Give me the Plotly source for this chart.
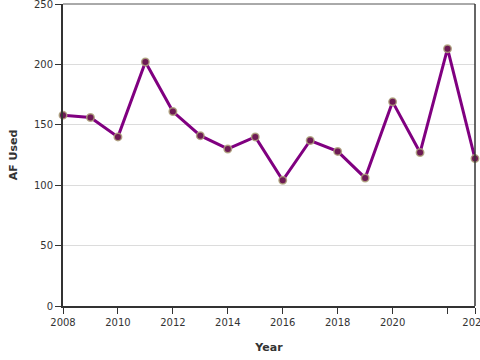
import plotly.graph_objects as go

years = [2008, 2009, 2010, 2011, 2012, 2013, 2014, 2015, 2016, 2017, 2018, 2019, 2020, 2021, 2022, 2023]
af_used = [158, 156, 140, 202, 161, 141, 130, 140, 104, 137, 128, 106, 169, 127, 213, 122]

x_tickvals = [2008, 2010, 2012, 2014, 2016, 2018, 2020, 2022, 2023]
x_ticktext = ["2008", "2010", "2012", "2014", "2016", "2018", "2020", "", "2023"]
y_tickvals = [0, 50, 100, 150, 200, 250]

fig = go.Figure()
fig.add_trace(go.Scatter(
    x=years, y=af_used, mode="lines+markers",
    line=dict(color="#800080", width=3),
    marker=dict(size=7.5, color="#6e1a55", line=dict(color="rgba(175,165,125,0.85)", width=1.5)),
    cliponaxis=False,
))

fig.update_layout(
    width=480, height=360,
    margin=dict(l=63, r=5, t=4, b=54, autoexpand=False),
    paper_bgcolor="white", plot_bgcolor="white",
    font=dict(family="DejaVu Sans", size=10, color="#333"),
    showlegend=False,
    shapes=[
        dict(type="line", xref="paper", yref="paper", x0=0, x1=1, y0=1, y1=1,
             line=dict(color="#555", width=1)),
        dict(type="line", xref="paper", yref="paper", x0=1, x1=1, y0=0, y1=1,
             line=dict(color="#333", width=1.5)),
    ],
)
fig.update_xaxes(
    range=[2008, 2023], tickvals=x_tickvals, ticktext=x_ticktext, automargin=False,
    ticklabeloverflow="allow",
    showgrid=False, zeroline=False,
    showline=True, linecolor="#333", linewidth=2,
    ticks="outside", ticklen=6, tickcolor="#333", tickwidth=1,
    title=dict(text="<b>Year</b>", font=dict(size=11, color="#333"), standoff=16),
)
fig.update_yaxes(
    range=[0, 250], tickvals=y_tickvals, automargin=False,
    ticklabeloverflow="allow",
    showgrid=True, gridcolor="#dcdcdc", gridwidth=1, zeroline=False,
    showline=True, linecolor="#333", linewidth=2,
    ticks="outside", ticklen=6, tickcolor="#333", tickwidth=1,
    title=dict(text="<b>AF Used</b>", font=dict(size=11, color="#333"), standoff=14),
)

fig.write_html("out.html", config={"displayModeBar": False},
               post_script="document.body.style.margin='0';document.body.style.overflow='hidden';")
